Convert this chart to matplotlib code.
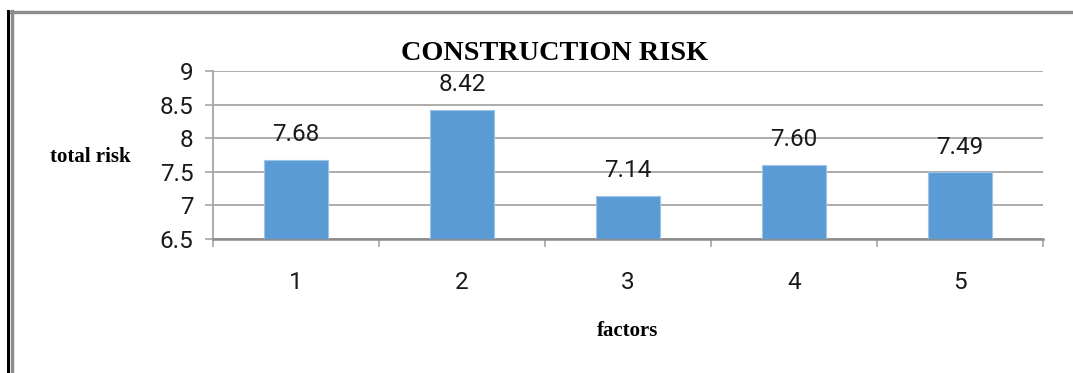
import numpy as np
import matplotlib.pyplot as plt
from matplotlib.lines import Line2D

# ====== data ======
factors = ['1', '2', '3', '4', '5']
total_risk = [7.68, 8.42, 7.14, 7.60, 7.49]
y_ticks = [6.5, 7, 7.5, 8, 8.5, 9]
y_tick_labels = ['6.5', '7', '7.5', '8', '8.5', '9']

W, H = 1073, 373
fig = plt.figure(figsize=(W / 100, H / 100), dpi=100)
ax = fig.add_axes([213 / W, 134 / H, 830 / W, 168 / H])

x = np.arange(len(factors))
ax.bar(x, np.array(total_risk) - 6.5, bottom=6.5, width=0.39,
       color='#5b9bd5', edgecolor='#9dc3e6', linewidth=0.8, zorder=3)

for xi, v in zip(x, total_risk):
    ax.annotate(f'{v:.2f}', (xi, v), xytext=(0, 13.5), textcoords='offset points',
                ha='center', va='baseline', fontsize=17.5, family='Roboto',
                color='#1a1a1a')

ax.set_xlim(-0.5, len(factors) - 0.5)
ax.set_ylim(6.5, 9)
ax.set_yticks(y_ticks)
ax.set_yticklabels(y_tick_labels, family='Roboto', fontsize=17.5)
ax.set_xticks(x)
ax.set_xticklabels(factors, family='Roboto', fontsize=17.5)
ax.set_xticks(np.arange(-0.5, len(factors)), minor=True)

ax.tick_params(axis='y', length=6, width=1.2, color='#a6a6a6', pad=8, colors='#1a1a1a')
ax.tick_params(axis='y', color='#a6a6a6')
ax.tick_params(axis='x', which='major', length=0, pad=23, colors='#1a1a1a')
ax.tick_params(axis='x', which='minor', length=6, width=1.2, color='#a6a6a6')

ax.grid(axis='y', color='#a6a6a6', linewidth=1.3, zorder=0)
for s in ['top', 'right']:
    ax.spines[s].set_visible(False)
ax.spines['left'].set_color('#a6a6a6')
ax.spines['left'].set_linewidth(1.3)
ax.spines['bottom'].set_color('#8c8c8c')
ax.spines['bottom'].set_linewidth(1.8)

serif = ['Liberation Serif', 'DejaVu Serif']
fig.text(555 / W, 1 - 53 / H, 'CONSTRUCTION RISK', ha='center', va='center',
         fontsize=20.3, fontweight='bold', family=serif)
fig.text(50 / W, 1 - 157 / H, 'total risk', ha='left', va='center',
         fontsize=15, fontweight='bold', family=serif)
fig.text(628 / W, 1 - 331 / H, 'factors', ha='center', va='center',
         fontsize=15, fontweight='bold', family=serif)

# frame lines around the chart
fig.add_artist(Line2D([7.5 / W, 7.5 / W], [0, 1 - 11 / H], color='black', linewidth=2.2))
fig.add_artist(Line2D([12 / W, 12 / W], [0, 1 - 11 / H], color='#8c8c8c', linewidth=2.4))
fig.add_artist(Line2D([11 / W, 1], [1 - 12 / H, 1 - 12 / H], color='#8c8c8c', linewidth=2.4))

fig.savefig('out.png', dpi=100)
